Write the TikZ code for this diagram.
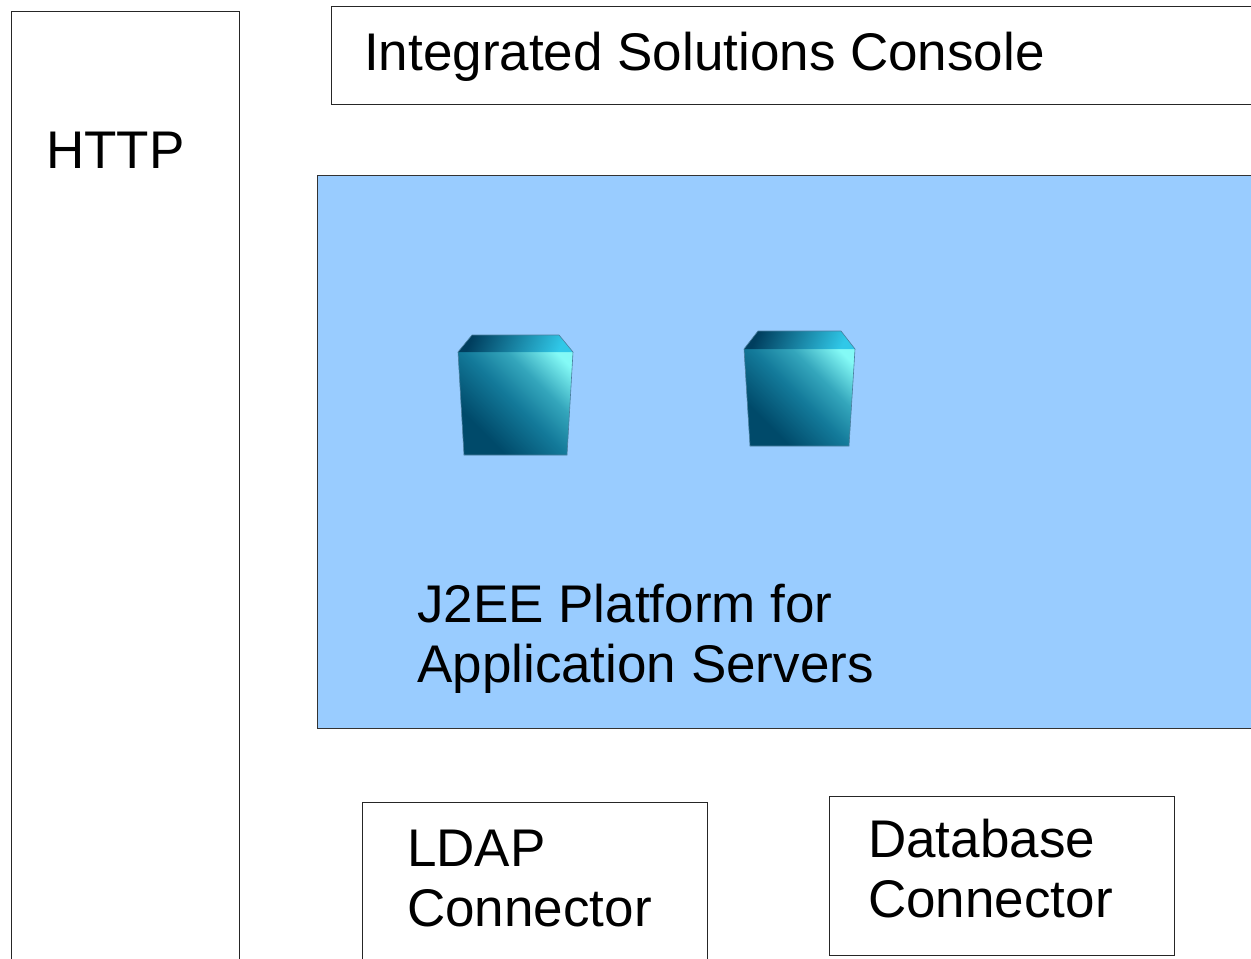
\documentclass[tikz,border=0pt]{standalone}
\usepackage{fontspec}
\setmainfont{Liberation Sans}
\definecolor{platform}{HTML}{99CCFF}
\definecolor{cubedark}{HTML}{004A6A}
\definecolor{cubemid}{HTML}{137A9A}
\definecolor{cubemidb}{HTML}{34A6BC}
\definecolor{cubelight}{HTML}{84FAF6}
\definecolor{cubetopdark}{HTML}{003E5E}
\definecolor{cubetopmid}{HTML}{1080AA}
\definecolor{cubetoplight}{HTML}{30C8E8}
\definecolor{cubeedge}{HTML}{4A7E9E}
\pgfdeclarehorizontalshading{cubeshade}{100bp}{color(0bp)=(cubedark); color(30bp)=(cubedark); color(50bp)=(cubemid); color(64bp)=(cubemidb); color(80bp)=(cubelight); color(100bp)=(cubelight)}
\tikzset{
  frame/.style={draw=black!85, line width=1pt},
  label/.style={anchor=base west, inner sep=0pt, font=\fontsize{53}{60}\selectfont},
  cubeface/.style={shading=cubeshade, shading angle=45},
  cubetop/.style={left color=cubetopdark, middle color=cubetopmid, right color=cubetoplight, shading angle=65},
}
\begin{document}
\begin{tikzpicture}[x=1pt,y=-1pt]
\useasboundingbox (0,0) rectangle (1251,959);
\clip (0,0) rectangle (1251,959);
\fill[white] (0,0) rectangle (1251,959);

% HTTP column
\draw[frame] (11,11) rectangle (239,975);
\node[label] (http) at (46,168) {HTTP};

% Integrated Solutions Console
\draw[frame] (331,6) rectangle (1265,104);
\node[label] (isc) at (364,70) {Integrated Solutions Console};

% J2EE platform
\draw[draw=black!80, line width=1pt, fill=platform] (317,175) rectangle (1265,728);
\node[label] (j2eeA) at (417,622) {J2EE Platform for};
\node[label] (j2eeB) at (417,682) {Application Servers};

% cube 1
\shade[cubeface] (458,352) -- (573,352) -- (567,455) -- (464,455) -- cycle;
\shade[cubetop] (472,335) -- (559,335) -- (573,352) -- (458,352) -- cycle;
\draw[cubeedge, line width=0.6pt] (472,335) -- (559,335) -- (573,352) -- (567,455) -- (464,455) -- (458,352) -- cycle;

% cube 2
\shade[cubeface] (744,349) -- (855,349) -- (849,446) -- (750,446) -- cycle;
\shade[cubetop] (758,331) -- (841,331) -- (855,349) -- (744,349) -- cycle;
\draw[cubeedge, line width=0.6pt] (758,331) -- (841,331) -- (855,349) -- (849,446) -- (750,446) -- (744,349) -- cycle;

% LDAP connector
\draw[frame] (362,802) rectangle (707,975);
\node[label] (ldapA) at (407,866) {LDAP};
\node[label] (ldapB) at (407,926) {Connector};

% Database connector
\draw[frame] (829,796) rectangle (1174,955);
\node[label] (dbA) at (868,857) {Database};
\node[label] (dbB) at (868,917) {Connector};
\end{tikzpicture}
\end{document}
